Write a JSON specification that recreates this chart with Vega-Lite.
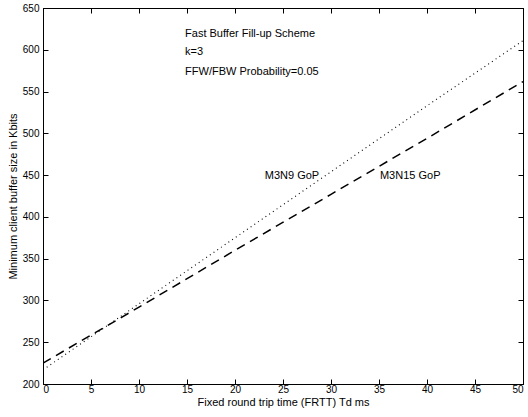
{
  "$schema": "https://vega.github.io/schema/vega-lite/v6.json",
  "width": 480,
  "height": 376,
  "autosize": {"type": "none"},
  "padding": {"left": 43, "top": 8, "right": 5, "bottom": 33},
  "background": "white",
  "config": {
    "view": {"stroke": "black", "strokeWidth": 1},
    "font": "Liberation Sans",
    "axis": {
      "grid": false,
      "domainColor": "black",
      "tickColor": "black",
      "labelColor": "black",
      "titleColor": "black",
      "labelFont": "Liberation Sans",
      "titleFont": "Liberation Sans",
      "labelFontSize": 10,
      "titleFontSize": 11,
      "titleFontWeight": "normal"
    }
  },
  "datasets": {
    "lines": [
      {"frtt": 0, "size": 217, "series": "M3N9 GoP"},
      {"frtt": 10, "size": 296, "series": "M3N9 GoP"},
      {"frtt": 20, "size": 375, "series": "M3N9 GoP"},
      {"frtt": 30, "size": 454, "series": "M3N9 GoP"},
      {"frtt": 40, "size": 533, "series": "M3N9 GoP"},
      {"frtt": 50, "size": 611, "series": "M3N9 GoP"},
      {"frtt": 0, "size": 225, "series": "M3N15 GoP"},
      {"frtt": 10, "size": 292, "series": "M3N15 GoP"},
      {"frtt": 20, "size": 360, "series": "M3N15 GoP"},
      {"frtt": 30, "size": 427, "series": "M3N15 GoP"},
      {"frtt": 40, "size": 494, "series": "M3N15 GoP"},
      {"frtt": 50, "size": 562, "series": "M3N15 GoP"}
    ],
    "notes": [
      {"x": 14.8, "y": 619, "label": "Fast Buffer Fill-up Scheme"},
      {"x": 14.8, "y": 597, "label": "k=3"},
      {"x": 14.8, "y": 573, "label": "FFW/FBW Probability=0.05"},
      {"x": 23.1, "y": 449, "label": "M3N9 GoP"},
      {"x": 35.1, "y": 449, "label": "M3N15 GoP"}
    ]
  },
  "layer": [
    {
      "data": {"name": "lines"},
      "mark": {"type": "line", "color": "black", "clip": true},
      "encoding": {
        "x": {
          "field": "frtt", "type": "quantitative",
          "scale": {"domain": [0, 50], "nice": false},
          "axis": {
            "title": "Fixed round trip time (FRTT) Td ms",
            "values": [0, 5, 10, 15, 20, 25, 30, 35, 40, 45, 50],
            "tickSize": -5, "labelPadding": 5, "titlePadding": 2
          }
        },
        "y": {
          "field": "size", "type": "quantitative",
          "scale": {"domain": [200, 650], "nice": false},
          "axis": {
            "title": "Minimum client buffer size in Kbits",
            "values": [200, 250, 300, 350, 400, 450, 500, 550, 600, 650],
            "tickSize": -5, "labelPadding": 9, "titlePadding": 4
          }
        },
        "detail": {"field": "series"},
        "strokeDash": {
          "field": "series", "type": "nominal",
          "scale": {"domain": ["M3N9 GoP", "M3N15 GoP"], "range": [[1, 3.5], [9, 6]]},
          "legend": null
        },
        "strokeWidth": {
          "field": "series", "type": "nominal",
          "scale": {"domain": ["M3N9 GoP", "M3N15 GoP"], "range": [1.1, 1.5]},
          "legend": null
        }
      }
    },
    {
      "data": {"name": "notes"},
      "mark": {"type": "text", "align": "left", "baseline": "middle", "fontSize": 11, "color": "black", "font": "Liberation Sans"},
      "encoding": {
        "x": {
          "field": "x", "type": "quantitative",
          "scale": {"domain": [0, 50], "nice": false},
          "axis": {"title": null, "labels": false, "values": [0, 5, 10, 15, 20, 25, 30, 35, 40, 45, 50], "tickSize": -5}
        },
        "y": {
          "field": "y", "type": "quantitative",
          "scale": {"domain": [200, 650], "nice": false},
          "axis": {"title": null, "labels": false, "values": [200, 250, 300, 350, 400, 450, 500, 550, 600, 650], "tickSize": -5}
        },
        "text": {"field": "label"}
      }
    }
  ],
  "resolve": {"axis": {"x": "independent", "y": "independent"}}
}
